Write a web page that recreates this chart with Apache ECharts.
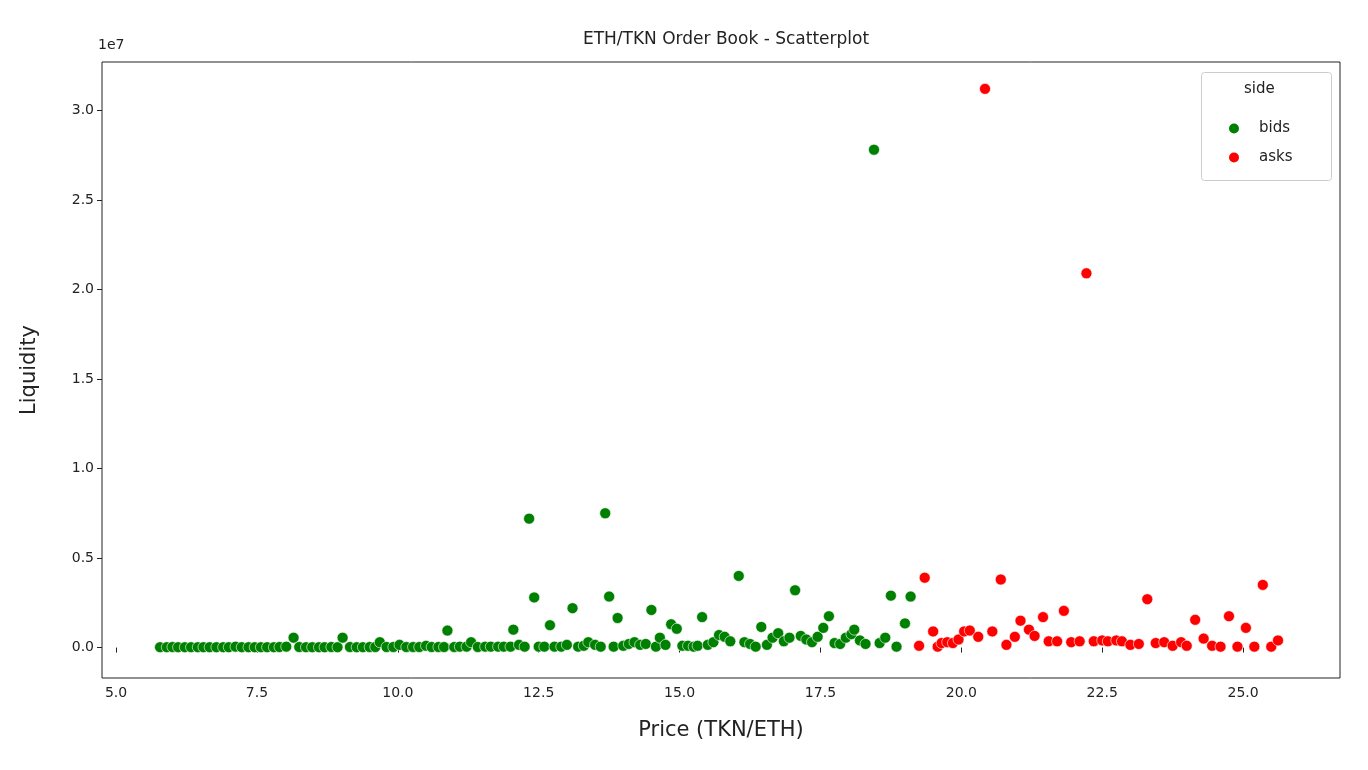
<!DOCTYPE html><html><head><meta charset="utf-8"><script src="https://cdn.jsdelivr.net/npm/echarts@6/dist/echarts.min.js"></script>
<style>html,body{margin:0;background:#fff}#c{width:1368px;height:770px}</style></head><body><div id="c"></div><script>
// liquidity in millions
const bidPrice=[5.78,5.9,6.0,6.1,6.22,6.33,6.45,6.55,6.66,6.78,6.9,7.0,7.12,7.23,7.35,7.46,7.57,7.68,7.8,7.9,8.02,8.15,8.25,8.37,8.48,8.6,8.7,8.82,8.93,9.02,9.15,9.27,9.38,9.5,9.6,9.68,9.8,9.92,10.03,10.15,10.27,10.38,10.5,10.6,10.72,10.82,10.88,11.0,11.1,11.22,11.3,11.42,11.55,11.65,11.78,11.88,12.0,12.05,12.15,12.25,12.33,12.42,12.5,12.6,12.7,12.78,12.9,13.0,13.1,13.2,13.3,13.38,13.5,13.6,13.68,13.75,13.83,13.9,14.0,14.1,14.2,14.3,14.4,14.5,14.58,14.65,14.75,14.85,14.95,15.05,15.15,15.25,15.32,15.4,15.5,15.6,15.7,15.8,15.9,16.05,16.15,16.25,16.35,16.45,16.55,16.65,16.75,16.85,16.95,17.05,17.15,17.25,17.35,17.45,17.55,17.65,17.75,17.85,17.95,18.05,18.1,18.2,18.3,18.45,18.55,18.65,18.75,18.85,19.0,19.1];
const bidLiq=[0.02,0.02,0.03,0.02,0.02,0.02,0.02,0.02,0.02,0.02,0.02,0.02,0.05,0.02,0.02,0.02,0.02,0.02,0.02,0.03,0.05,0.55,0.03,0.02,0.02,0.02,0.02,0.03,0.02,0.55,0.03,0.02,0.02,0.03,0.03,0.3,0.03,0.03,0.15,0.03,0.03,0.03,0.1,0.03,0.03,0.03,0.95,0.03,0.05,0.05,0.3,0.03,0.05,0.05,0.05,0.05,0.05,1.0,0.15,0.05,7.2,2.8,0.05,0.05,1.25,0.05,0.05,0.15,2.2,0.05,0.1,0.3,0.15,0.05,7.5,2.85,0.05,1.65,0.1,0.2,0.3,0.15,0.2,2.1,0.05,0.55,0.15,1.3,1.05,0.1,0.1,0.05,0.1,1.7,0.15,0.3,0.7,0.6,0.35,4.0,0.3,0.2,0.05,1.15,0.15,0.55,0.8,0.35,0.55,3.2,0.65,0.45,0.3,0.6,1.1,1.75,0.25,0.2,0.55,0.75,1.0,0.4,0.2,27.8,0.25,0.55,2.9,0.05,1.35,2.85];
const askPrice=[19.25,19.35,19.5,19.58,19.65,19.75,19.85,19.95,20.05,20.15,20.3,20.42,20.55,20.7,20.8,20.95,21.05,21.2,21.3,21.45,21.55,21.7,21.82,21.95,22.1,22.22,22.35,22.5,22.6,22.75,22.85,23.0,23.15,23.3,23.45,23.6,23.75,23.9,24.0,24.15,24.3,24.45,24.6,24.75,24.9,25.05,25.2,25.35,25.5,25.62];
const askLiq=[0.1,3.9,0.9,0.05,0.25,0.3,0.25,0.45,0.9,0.95,0.6,31.2,0.9,3.8,0.15,0.6,1.5,1.0,0.65,1.7,0.35,0.35,2.05,0.3,0.35,20.9,0.35,0.4,0.35,0.4,0.35,0.15,0.2,2.7,0.25,0.3,0.1,0.3,0.1,1.55,0.5,0.1,0.05,1.75,0.05,1.1,0.05,3.5,0.05,0.4];
const xTicks=[5,7.5,10,12.5,15,17.5,20,22.5,25];
const yTicks=[0,0.5,1.0,1.5,2.0,2.5,3.0];
const pair=(a,b)=>a.map((v,i)=>[v,b[i]]);
const F='DejaVu Sans';
const ch=echarts.init(document.getElementById('c'));
ch.setOption({
 animation:false,
 title:{text:'ETH/TKN Order Book - Scatterplot',left:721,top:26,textAlign:'center',textStyle:{fontFamily:F,fontSize:17,fontWeight:'normal',color:'#222'}},
 grid:{left:102,right:28,top:62,bottom:92,show:true,borderColor:'#222',borderWidth:1,backgroundColor:'transparent'},
 xAxis:{type:'value',min:4.75,max:26.72,name:'Price (TKN/ETH)',nameLocation:'middle',nameGap:42,nameTextStyle:{fontFamily:F,fontSize:21,color:'#222'},
  axisLine:{show:false},splitLine:{show:false},
  axisLabel:{fontFamily:F,fontSize:14,color:'#222',customValues:xTicks,formatter:v=>v.toFixed(1)},axisTick:{show:true,customValues:xTicks,length:5,lineStyle:{color:'#222'}}},
 yAxis:{type:'value',min:-1.7,max:32.7,name:'Liquidity',nameLocation:'middle',nameGap:62,nameTextStyle:{fontFamily:F,fontSize:21,color:'#222'},
  axisLine:{show:false},splitLine:{show:false},
  axisLabel:{fontFamily:F,fontSize:14,color:'#222',customValues:yTicks.map(v=>v*10),formatter:v=>(v/10).toFixed(1)},axisTick:{show:true,customValues:yTicks.map(v=>v*10),length:5,lineStyle:{color:'#222'}}},
 graphic:[
  {type:'rect',left:1201,top:72,shape:{width:130,height:108,r:3},style:{fill:'rgba(255,255,255,0.8)',stroke:'#ccc',lineWidth:1},z:10},
  {type:'text',left:1244,top:82,style:{text:'side',fontFamily:F,fontSize:15,fill:'#222'},z:11},
  {type:'text',left:98,top:38,style:{text:'1e7',fontFamily:F,fontSize:14,fill:'#222'}}
 ],
 legend:{orient:'vertical',left:1222,top:116,itemGap:14,itemWidth:12,itemHeight:12,z:12,textStyle:{fontFamily:F,fontSize:15,color:'#222',padding:[0,0,0,14]},data:[{name:'bids',icon:'circle'},{name:'asks',icon:'circle'}]},
 series:[
  {name:'bids',type:'scatter',symbolSize:11,data:pair(bidPrice,bidLiq),itemStyle:{color:'#008000',borderColor:'#fff',borderWidth:0.6,opacity:1}},
  {name:'asks',type:'scatter',symbolSize:11,data:pair(askPrice,askLiq),itemStyle:{color:'#ff0000',borderColor:'#fff',borderWidth:0.6,opacity:1}}
 ]
});
</script></body></html>
